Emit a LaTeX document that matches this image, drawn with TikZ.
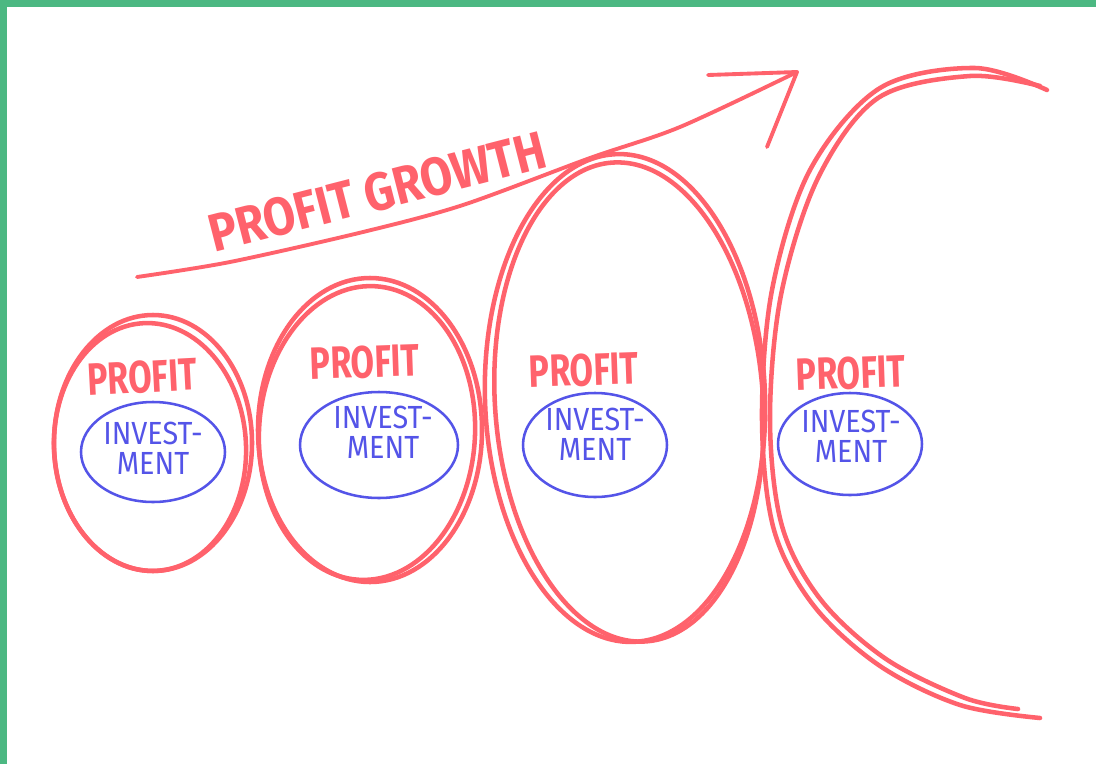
\documentclass[tikz,border=0pt]{standalone}
\usepackage{fontspec}
\setmainfont{Fira Sans}
\definecolor{redink}{RGB}{255,98,108}
\definecolor{blueink}{RGB}{84,84,232}
\definecolor{frameink}{RGB}{76,184,130}
\begin{document}
\begin{tikzpicture}[x=0.75pt,y=-0.75pt,
  redline/.style={draw=redink, line width=3.4pt, line cap=round, line join=round},
  blueline/.style={draw=blueink, line width=1.9pt},
  profit/.style={text=redink, font=\fontsize{34}{34}\selectfont\bfseries, inner sep=0pt},
  growth/.style={text=redink, font=\fontsize{40}{40}\selectfont\bfseries, inner sep=0pt},
  invest/.style={text=blueink, font=\fontsize{24}{19}\selectfont, inner sep=0pt},
]
\useasboundingbox (0,0) rectangle (1096,764);
\fill[white] (0,0) rectangle (1096,764);
\fill[frameink] (0,0) rectangle (1096,7);
\fill[frameink] (0,0) rectangle (7,764);

% profit ellipses
\draw[redline] (153,443) ellipse [x radius=99, y radius=128];
\draw[redline, rotate around={3:(150,447)}] (150,447) ellipse [x radius=96, y radius=124];
\draw[redline] (370,430) ellipse [x radius=112, y radius=152];
\draw[redline, rotate around={-3:(367,433)}] (367,433) ellipse [x radius=108, y radius=147];
\draw[redline, rotate around={2:(625,398)}] (625,398) ellipse [x radius=140, y radius=244];
\draw[redline, rotate around={4:(629,402)}] (629,402) ellipse [x radius=134, y radius=240];

% big arc
\draw[redline] plot[smooth, tension=0.55] coordinates {(1047,90) (975,68) (880,88) (810,170) (772,290) (762,420) (774,530) (814,606) (880,666) (960,705) (1040,718)};
\draw[redline] plot[smooth, tension=0.55] coordinates {(1040,86) (970,76) (878,98) (818,178) (781,295) (770,420) (782,526) (821,600) (886,659) (965,698) (1018,709)};

% growth arrow
\coordinate (astart) at (137,277);
\coordinate (atip) at (797,72);
\coordinate (abar) at (708,75);
\coordinate (aleg) at (767,147);
\draw[redline, line width=2.9pt] plot[smooth, tension=0.5] coordinates {(astart) (230,262) (363,232) (463,205) (590,158) (680,127) (atip)};
\draw[redline, line width=2.9pt] (abar) -- (atip) -- (aleg);

\node[growth, rotate=14.4] (growth) at (377,192) {\scalebox{0.87}[1]{PROFIT GROWTH}};

% profit labels
\node[profit, rotate=3] (p1) at (142,377) {\scalebox{0.75}[1]{PROFIT}};
\node[profit, rotate=2] (p2) at (365,362) {\scalebox{0.75}[1]{PROFIT}};
\node[profit, rotate=2] (p3) at (584,370) {\scalebox{0.75}[1]{PROFIT}};
\node[profit, rotate=2] (p4) at (851,373) {\scalebox{0.75}[1]{PROFIT}};

% investment ellipses
\draw[blueline] (153,452) ellipse [x radius=72, y radius=50];
\draw[blueline] (379,445) ellipse [x radius=79, y radius=53];
\draw[blueline] (595,445) ellipse [x radius=72, y radius=52];
\draw[blueline] (850,444) ellipse [x radius=72, y radius=51];

\node[invest] (i1) at (153,452) {\scalebox{0.9}[1]{\begin{tabular}{@{}c@{}}INVEST-\\MENT\end{tabular}}};
\node[invest] (i2) at (383,436) {\scalebox{0.9}[1]{\begin{tabular}{@{}c@{}}INVEST-\\MENT\end{tabular}}};
\node[invest] (i3) at (595,438) {\scalebox{0.9}[1]{\begin{tabular}{@{}c@{}}INVEST-\\MENT\end{tabular}}};
\node[invest] (i4) at (851,440) {\scalebox{0.9}[1]{\begin{tabular}{@{}c@{}}INVEST-\\MENT\end{tabular}}};
\end{tikzpicture}
\end{document}
